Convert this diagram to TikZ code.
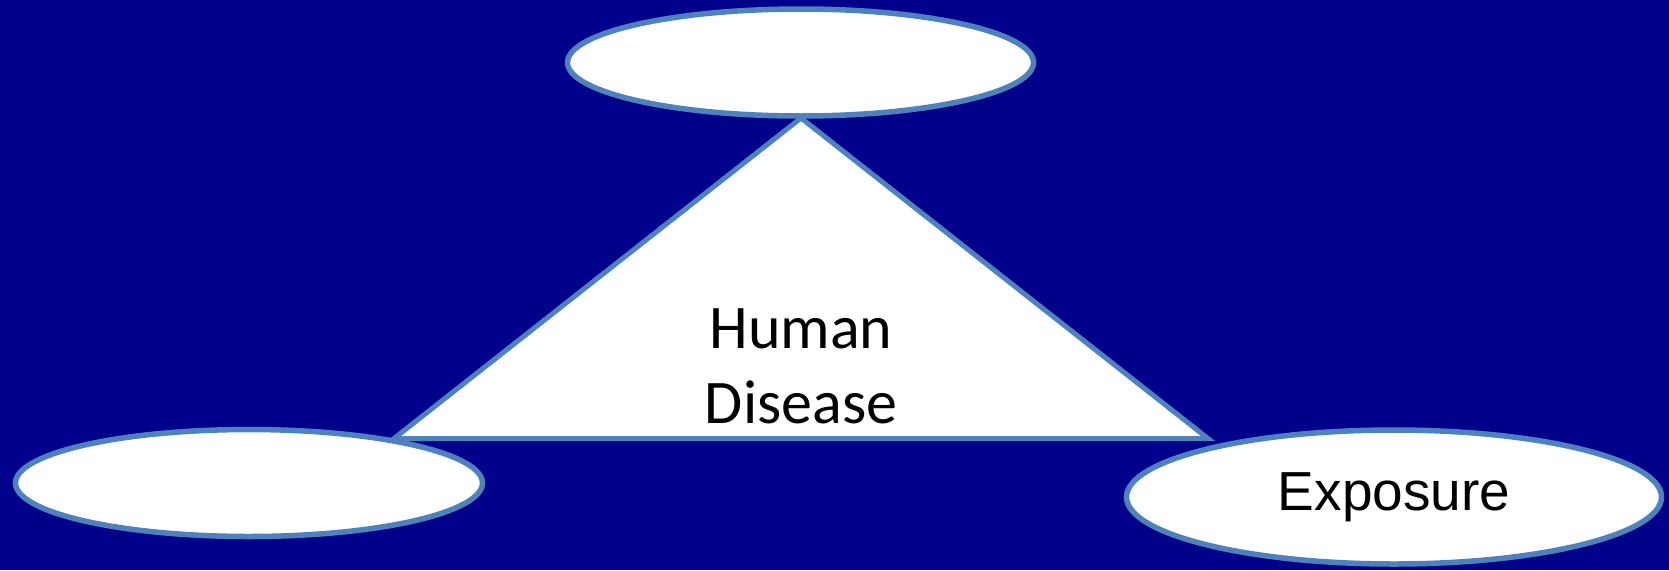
\documentclass[tikz,border=0pt]{standalone}
\usepackage{fontspec}
\setmainfont{Carlito}
\newfontfamily\arialfont{Liberation Sans}
\usetikzlibrary{shapes.geometric}
\definecolor{bgnavy}{RGB}{0,0,139}
\definecolor{edgeblue}{RGB}{79,129,189}
\begin{document}
\begin{tikzpicture}[x=1pt,y=-1pt,
  oval/.style={ellipse, draw=edgeblue, fill=white, line width=5.5pt, inner sep=0pt},
  tri/.style={draw=edgeblue, fill=white, line width=5pt, line join=miter}]
\fill[bgnavy] (0,0) rectangle (1669,570);
\useasboundingbox (0,0) rectangle (1669,570);
% triangle
\coordinate (apex) at (801,118);
\coordinate (bl) at (394,438.5);
\coordinate (br) at (1208,438.5);
\draw[tri] (apex) -- (bl) -- (br) -- cycle;
\node[font=\fontsize{62}{75}\selectfont, align=center, inner sep=0pt] (disease) at (801,366) {Human\\Disease};
% ellipses
\node[oval, minimum width=466pt, minimum height=107pt] (top) at (800.5,62.5) {};
\node[oval, minimum width=467pt, minimum height=107pt] (left) at (249,483) {};
\node[oval, minimum width=535pt, minimum height=134pt] (exposure) at (1394,497) {\arialfont\fontsize{55}{66}\selectfont Exposure};
\end{tikzpicture}
\end{document}
